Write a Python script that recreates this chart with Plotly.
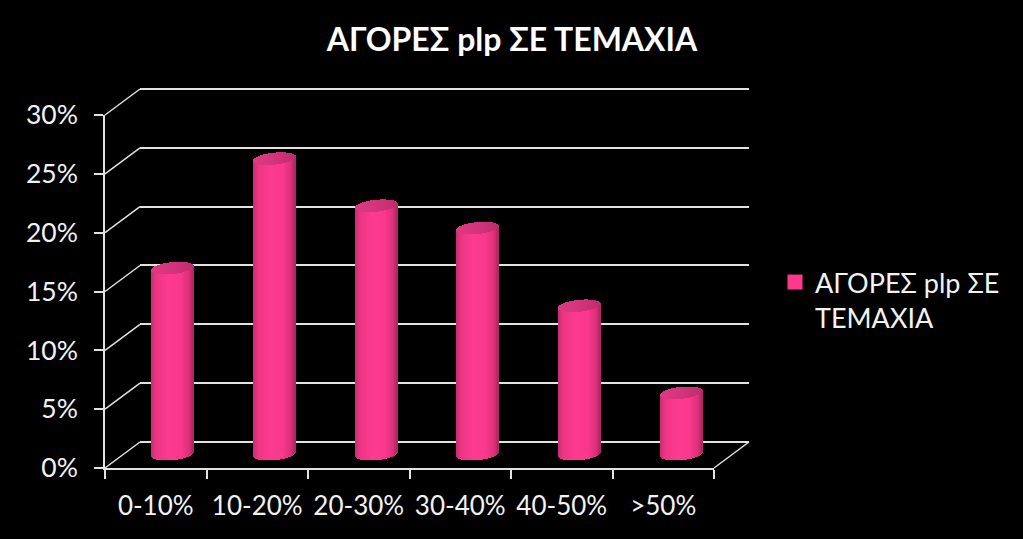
import plotly.graph_objects as go
import math

categories = ["0-10%", "10-20%", "20-30%", "30-40%", "40-50%", ">50%"]
values = [15.8, 25.1, 21.1, 19.2, 12.6, 5.2]
series_name = "ΑΓΟΡΕΣ plp ΣΕ<br>ΤΕΜΑΧΙΑ"
title_text = "ΑΓΟΡΕΣ plp ΣΕ ΤΕΜΑΧΙΑ"

W, H = 1023, 539
FONT = "Lato, 'Noto Sans', sans-serif"
GRID = "#e2e2e2"
TEXT = "#f2f2f2"
PINK = "#fb3a8e"

def px(x): return x / W
def py(y): return 1 - y / H

# three parallel planes of the fake 3-D box: front, bars, back
front_x, front_y = (105, 714), (468, 115)
back_x, back_y = (140, 749), (442, 89)
mid_x = (122, 732)
unit = 11.77
mid_bottom = 454 + 2 * unit
mid_top = 454 - 30 * unit
back_unit = (back_y[0] - back_y[1]) / 30

def mix(stops, t):
    for (a, ca), (b, cb) in zip(stops, stops[1:]):
        if a <= t <= b:
            f = (t - a) / (b - a)
            return "rgb(%d,%d,%d)" % tuple(round(p + (q - p) * f) for p, q in zip(ca, cb))
    return "rgb(%d,%d,%d)" % stops[-1][1]

side_stops = [(-1, (200, 44, 112)), (-0.75, (236, 54, 132)), (-0.2, (252, 58, 144)),
              (0.4, (250, 56, 142)), (0.8, (222, 48, 122)), (1, (170, 38, 96))]
cap_stops = [(-1, (222, 58, 132)), (0, (212, 52, 124)), (1, (192, 44, 110))]

STRIPS = 42
bar_w = 42 / 101.7
b_px, tilt_px = 6.0, 2.0
strip_w = bar_w / STRIPS

fig = go.Figure()

# axis carriers (and the legend entry)
fig.add_trace(go.Scatter(x=categories, y=[None] * 6, xaxis="x2", yaxis="y2",
                         mode="markers", showlegend=False, hoverinfo="skip"))
fig.add_trace(go.Scatter(x=categories, y=[None] * 6, xaxis="x", yaxis="y",
                         mode="markers", name=series_name, showlegend=True,
                         marker=dict(symbol="square", size=15, color=PINK), hoverinfo="skip"))

for i in range(STRIPS):
    t = -1 + (2 * i + 1) / STRIPS
    arc = math.sqrt(max(0, 1 - t * t)) * b_px / unit
    skew = t * tilt_px / unit
    off = -bar_w / 2 + i * strip_w
    lower = -arc + skew
    upper = arc + skew
    fig.add_trace(go.Bar(x=categories, y=[v for v in values], base=[lower] * 6,
                         width=strip_w * 1.2, offset=off, xaxis="x3", yaxis="y3",
                         marker=dict(color=mix(side_stops, t), line=dict(width=0)),
                         showlegend=False, hoverinfo="skip"))
    fig.add_trace(go.Bar(x=categories, y=[upper - lower] * 6, base=[v + lower for v in values],
                         width=strip_w * 1.2, offset=off, xaxis="x3", yaxis="y3",
                         marker=dict(color=mix(cap_stops, t), line=dict(width=0)),
                         showlegend=False, hoverinfo="skip"))

# receding lines joining front and back planes
ticks = list(range(0, 31, 5))
shapes = []
for k in ticks:
    fy = front_y[0] + (front_y[1] - front_y[0]) * k / 30
    by = back_y[0] + (back_y[1] - back_y[0]) * k / 30
    shapes.append(dict(type="line", xref="paper", yref="paper", layer="below",
                       x0=px(front_x[0]), y0=py(fy), x1=px(back_x[0]), y1=py(by),
                       line=dict(color=GRID, width=1.5)))
shapes.append(dict(type="line", xref="paper", yref="paper", layer="below",
                   x0=px(front_x[1]), y0=py(front_y[0]), x1=px(back_x[1]), y1=py(back_y[0]),
                   line=dict(color=GRID, width=1.5)))

x_font = dict(family=FONT, size=26, color=TEXT)
y_font = dict(family=FONT, size=26.5, color=TEXT)
fig.update_layout(
    width=W, height=H, autosize=False,
    margin=dict(l=0, r=0, t=0, b=0, autoexpand=False),
    paper_bgcolor="black", plot_bgcolor="rgba(0,0,0,0)",
    barmode="overlay", bargap=0, hovermode=False,
    shapes=shapes,
    title=dict(text="<b>%s</b>" % title_text, x=512 / W, y=py(40), xanchor="center", yanchor="middle",
               automargin=False, font=dict(family=FONT, size=32, color="white")),
    legend=dict(x=px(775), y=py(258), xanchor="left", yanchor="top", valign="top",
                bgcolor="rgba(0,0,0,0)", font=dict(family=FONT, size=27, color=TEXT),
                itemclick=False, itemdoubleclick=False),
    xaxis=dict(domain=[px(front_x[0]), px(front_x[1])], type="category", categoryorder="array",
               categoryarray=categories, range=[-0.5, 5.5], tickson="boundaries", automargin=False,
               ticks="outside", ticklen=9, tickwidth=1.5, tickcolor=GRID, showline=True,
               linecolor=GRID, linewidth=1.5, showgrid=False, tickfont=x_font, tickangle=0,
               ticklabelstandoff=14, anchor="y", zeroline=False),
    yaxis=dict(domain=[py(front_y[0]), py(front_y[1])], range=[0, 30], dtick=5, ticksuffix="%",
               ticks="outside", ticklen=9, tickwidth=1.5, tickcolor=GRID, showline=True, automargin=False,
               linecolor=GRID, linewidth=1.5, showgrid=False, tickfont=y_font,
               ticklabelstandoff=11, anchor="x", zeroline=False),
    xaxis2=dict(domain=[px(back_x[0]), px(back_x[1])], type="category", categoryorder="array",
                categoryarray=categories, range=[-0.5, 5.5], visible=False, anchor="y2", automargin=False),
    yaxis2=dict(domain=[py(back_y[0]), py(back_y[1] - 0.5 * back_unit)], range=[0, 30.5], dtick=5,
                showticklabels=False, automargin=False,
                ticks="", showline=False, showgrid=True, gridcolor=GRID, gridwidth=1.5,
                zeroline=True, zerolinecolor=GRID, zerolinewidth=1.5, anchor="x2"),
    xaxis3=dict(domain=[px(mid_x[0]), px(mid_x[1])], type="category", categoryorder="array",
                categoryarray=categories, range=[-0.5, 5.5], visible=False, anchor="y3", automargin=False),
    yaxis3=dict(domain=[py(mid_bottom), py(mid_top)], range=[-2, 30], visible=False, anchor="x3", automargin=False),
)
fig.write_html("out.html", config=dict(displayModeBar=False),
               post_script="document.body.style.margin='0';document.body.style.background='black';")
